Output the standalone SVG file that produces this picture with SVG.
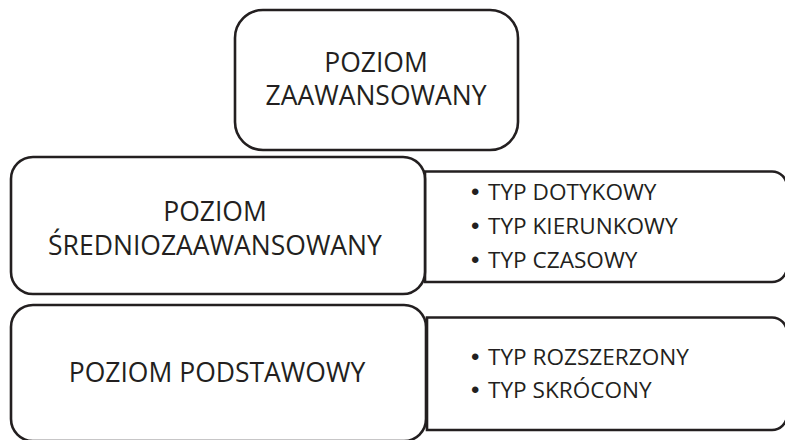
<svg xmlns="http://www.w3.org/2000/svg" width="785" height="440" viewBox="0 0 785 440">
  <style>
    .box { fill: #ffffff; stroke: #231f20; stroke-width: 2.6; }
    .title { font-family: "Open Sans", "Liberation Sans", sans-serif; font-size: 26.5px; fill: #231f20; text-anchor: middle; }
    .item { font-family: "Open Sans", "Liberation Sans", sans-serif; font-size: 22.6px; fill: #231f20; }
    .dot { font-family: "Liberation Sans", "DejaVu Sans", sans-serif; font-size: 24px; }
  </style>
  <rect width="785" height="440" fill="#ffffff"/>

  <!-- side panels with bullet lists (drawn first, partly behind the level boxes) -->
  <g id="types-mid">
    <path class="box" d="M 425 171.5 H 772 A 15 15 0 0 1 787 186.5 V 267 A 15 15 0 0 1 772 282 H 425 Z"/>
    <text class="item" x="471" y="200"><tspan class="dot">•</tspan><tspan x="488">TYP DOTYKOWY</tspan></text>
    <text class="item" x="471" y="234"><tspan class="dot">•</tspan><tspan x="488">TYP KIERUNKOWY</tspan></text>
    <text class="item" x="471" y="268"><tspan class="dot">•</tspan><tspan x="488">TYP CZASOWY</tspan></text>
  </g>
  <g id="types-basic">
    <path class="box" d="M 427 317.5 H 772 A 15 15 0 0 1 787 332.5 V 415 A 15 15 0 0 1 772 430 H 427 Z"/>
    <text class="item" x="471" y="365"><tspan class="dot">•</tspan><tspan x="488">TYP ROZSZERZONY</tspan></text>
    <text class="item" x="471" y="398"><tspan class="dot">•</tspan><tspan x="488">TYP SKRÓCONY</tspan></text>
  </g>

  <!-- level boxes -->
  <g id="level-advanced">
    <rect class="box" x="235" y="10" width="283" height="140" rx="28" ry="28"/>
    <text class="title" x="376" y="72">POZIOM</text>
    <text class="title" x="376" y="105">ZAAWANSOWANY</text>
  </g>
  <g id="level-intermediate">
    <rect class="box" x="11" y="157" width="414" height="137" rx="22" ry="22"/>
    <text class="title" x="215" y="221">POZIOM</text>
    <text class="title" x="215" y="255">ŚREDNIOZAAWANSOWANY</text>
  </g>
  <g id="level-basic">
    <rect class="box" x="11" y="305" width="415" height="136" rx="22" ry="22"/>
    <text class="title" x="217" y="382">POZIOM PODSTAWOWY</text>
  </g>

  <g id="connectors"></g>
</svg>
